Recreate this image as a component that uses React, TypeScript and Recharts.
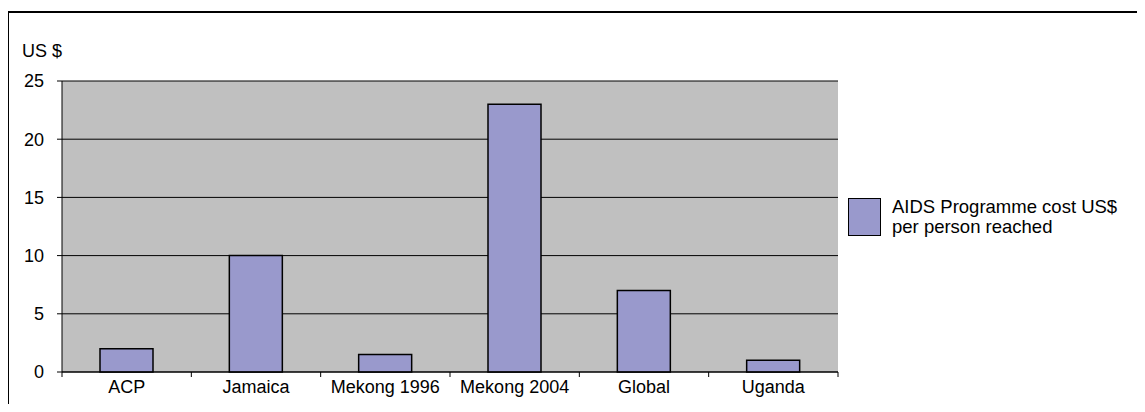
import { Bar, BarChart, CartesianGrid, Legend, XAxis, YAxis } from "recharts";

const categories = ["ACP", "Jamaica", "Mekong 1996", "Mekong 2004", "Global", "Uganda"];
const costPerPerson = [2, 10, 1.5, 23, 7, 1];
const yTicks = [0, 5, 10, 15, 20, 25];

const seriesName = "AIDS Programme cost US$ per person reached";
const legendLines = ["AIDS Programme cost US$", "per person reached"];
const yUnit = "US $";

const data = categories.map((name, i) => ({ name, cost: costPerPerson[i] }));

const W = 1145;
const H = 412;
const margin = { top: 81, right: 307, bottom: 10, left: 0 };
const yAxisWidth = 62;
const plotWidth = W - margin.left - margin.right - yAxisWidth;
const band = plotWidth / categories.length;
const font = "'Liberation Sans', Arial, sans-serif";
const tickMargin = 8;

function CategoryTick(props: any) {
  const { x, y, payload, index } = props;
  const axisY = y - tickMargin;
  return (
    <g>
      <text x={x} y={y} dy={13} textAnchor="middle" fontSize={18} fill="#000" fontFamily={font}>
        {payload.value}
      </text>
      <line x1={x - band / 2} x2={x - band / 2} y1={axisY} y2={axisY + 5} stroke="#000" />
      {index === categories.length - 1 && (
        <line x1={x + band / 2} x2={x + band / 2} y1={axisY} y2={axisY + 5} stroke="#000" />
      )}
    </g>
  );
}

function LegendBox() {
  return (
    <div style={{ display: "flex", alignItems: "center", fontFamily: font, fontSize: 18.5, color: "#000" }}>
      <div style={{ width: 31, height: 36, background: "#9999CC", border: "1.5px solid #000", marginRight: 11 }} />
      <div style={{ lineHeight: "20px" }}>
        {legendLines.map((l) => (
          <div key={l}>{l}</div>
        ))}
      </div>
    </div>
  );
}

export default function App() {
  return (
    <div style={{ margin: -8, width: W, height: H, position: "relative", overflow: "hidden", background: "#fff" }}>
      <div
        style={{
          position: "absolute",
          left: 7,
          top: 11,
          width: 1200,
          height: 500,
          border: "2px solid #000",
          boxSizing: "border-box",
        }}
      />
      <div style={{ position: "absolute", left: 22, top: 41, fontFamily: font, fontSize: 18, color: "#000" }}>{yUnit}</div>
      <div style={{ position: "absolute", left: 0, top: 0 }}>
        <BarChart width={W} height={H} data={data} margin={margin}>
          <CartesianGrid vertical={false} stroke="#000" fill="#C0C0C0" fillOpacity={1} />
          <XAxis
            dataKey="name"
            height={30}
            axisLine={{ stroke: "#000" }}
            tickLine={false}
            tickSize={0}
            tickMargin={tickMargin}
            interval={0}
            tick={<CategoryTick />}
          />
          <YAxis
            width={yAxisWidth}
            domain={[0, 25]}
            ticks={yTicks}
            interval={0}
            axisLine={{ stroke: "#000" }}
            tickLine={{ stroke: "#000" }}
            tickSize={5}
            tickMargin={13}
            tick={{ fill: "#000", fontSize: 18, fontFamily: font }}
          />
          <Legend
            layout="vertical"
            align="center"
            verticalAlign="middle"
            wrapperStyle={{ left: 848, top: 197, width: 295 }}
            content={() => <LegendBox />}
          />
          <Bar
            dataKey="cost"
            name={seriesName}
            fill="#9999CC"
            stroke="#000"
            strokeWidth={1.5}
            barSize={53}
            isAnimationActive={false}
          />
        </BarChart>
      </div>
    </div>
  );
}
